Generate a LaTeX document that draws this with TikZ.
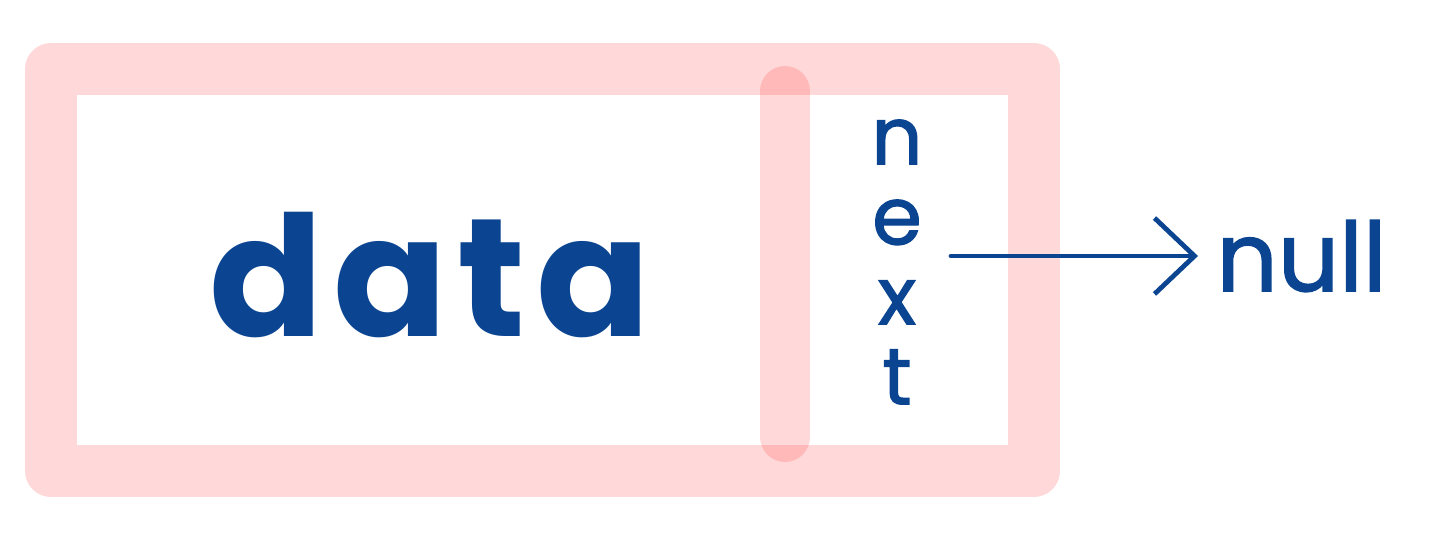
\documentclass[tikz,border=0pt]{standalone}
\usepackage{fontspec}
\newfontfamily\handfont{Poppins}[FakeBold=1.5]
\newfontfamily\handwide{Poppins}[LetterSpace=6]
\usetikzlibrary{arrows.meta,positioning,calc}
\definecolor{inkblue}{HTML}{0B4592}
\begin{document}
\begin{tikzpicture}[x=0.5pt, y=-0.5pt,
  band/.style={draw=red, draw opacity=0.15, line width=26pt, line join=round},
  divider/.style={draw=red, draw opacity=0.15, line width=25pt, line cap=round},
  hand/.style={text=inkblue, font=\handfont, inner sep=0pt},
  link/.style={draw=inkblue, line width=2.4pt, line cap=round, line join=round,
    -{Straight Barb[length=20pt, width=38pt]}}]
\useasboundingbox (0,0) rectangle (1440,540);
% node box and pointer field
\draw[band] (51,69) rectangle (1034,471);
\draw[divider] (785,91) -- (785,437);
% labels
\node[hand, font=\handwide\bfseries\fontsize{84}{84}\selectfont] (data) at (430,275) {data};
\node[hand, align=center, font=\handfont\fontsize{40}{40}\selectfont] (nxt) at (897,262) {n\\e\\x\\t};
\node[hand, anchor=west, font=\handfont\fontsize{48}{48}\selectfont] (nul) at (1216,256) {null};
% pointer to null
\draw[link] ([xshift=14pt]nxt.east |- nul.west) -- ([xshift=-9pt]nul.west);
\end{tikzpicture}
\end{document}
